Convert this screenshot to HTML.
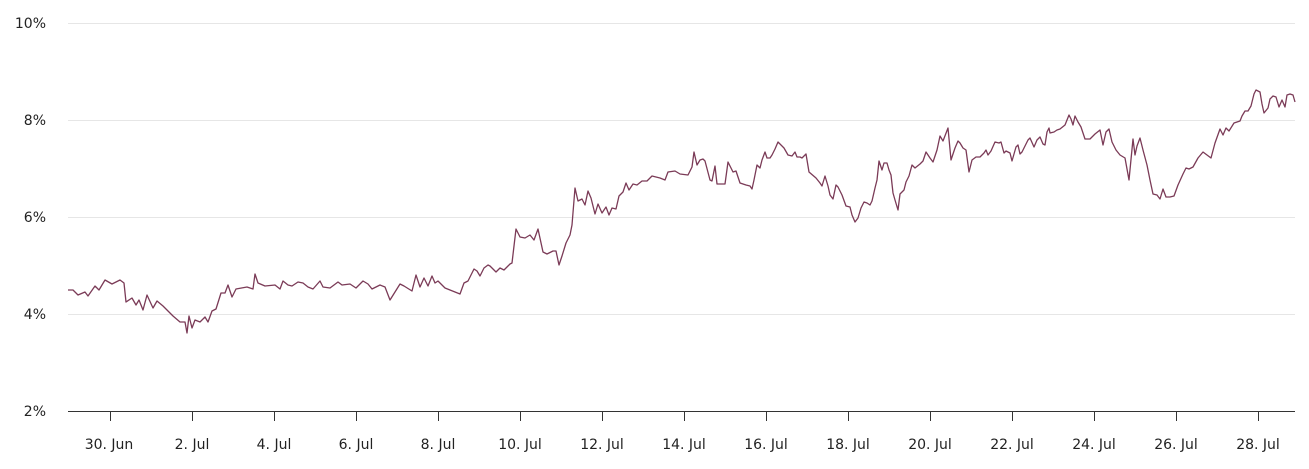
<!DOCTYPE html>
<html><head><meta charset="utf-8"><style>
body{margin:0;background:#fff;}
svg{display:block;font-family:"DejaVu Sans","Liberation Sans",sans-serif;}
</style></head><body>
<svg width="1309" height="469" viewBox="0 0 1309 469">
<g stroke="#e6e6e6" stroke-width="1">
<line x1="68" y1="23.5" x2="1295" y2="23.5"/>
<line x1="68" y1="120.5" x2="1295" y2="120.5"/>
<line x1="68" y1="217.5" x2="1295" y2="217.5"/>
<line x1="68" y1="314.5" x2="1295" y2="314.5"/>
</g>
<line x1="68" y1="411.5" x2="1295" y2="411.5" stroke="#333" stroke-width="1"/>
<g stroke="#333" stroke-width="1">
<line x1="110.5" y1="411" x2="110.5" y2="421"/><line x1="192.5" y1="411" x2="192.5" y2="421"/>
<line x1="274.5" y1="411" x2="274.5" y2="421"/><line x1="356.5" y1="411" x2="356.5" y2="421"/>
<line x1="438.5" y1="411" x2="438.5" y2="421"/><line x1="520.5" y1="411" x2="520.5" y2="421"/>
<line x1="602.5" y1="411" x2="602.5" y2="421"/><line x1="684.5" y1="411" x2="684.5" y2="421"/>
<line x1="766.5" y1="411" x2="766.5" y2="421"/><line x1="848.5" y1="411" x2="848.5" y2="421"/>
<line x1="930.5" y1="411" x2="930.5" y2="421"/><line x1="1012.5" y1="411" x2="1012.5" y2="421"/>
<line x1="1094.5" y1="411" x2="1094.5" y2="421"/><line x1="1176.5" y1="411" x2="1176.5" y2="421"/>
<line x1="1258.5" y1="411" x2="1258.5" y2="421"/>
</g>
<g font-size="14" fill="#222" text-anchor="end">
<text x="46" y="28">10%</text><text x="46" y="125">8%</text><text x="46" y="222">6%</text>
<text x="46" y="319">4%</text><text x="46" y="416">2%</text>
</g>
<g font-size="14" fill="#222" text-anchor="middle">
<text x="109" y="449">30. Jun</text><text x="192" y="449">2. Jul</text><text x="274" y="449">4. Jul</text>
<text x="356" y="449">6. Jul</text><text x="438" y="449">8. Jul</text><text x="520" y="449">10. Jul</text>
<text x="602" y="449">12. Jul</text><text x="684" y="449">14. Jul</text><text x="766" y="449">16. Jul</text>
<text x="848" y="449">18. Jul</text><text x="930" y="449">20. Jul</text><text x="1012" y="449">22. Jul</text>
<text x="1094" y="449">24. Jul</text><text x="1176" y="449">26. Jul</text><text x="1258" y="449">28. Jul</text>
</g>
<polyline fill="none" stroke="#7b3b57" stroke-width="1.3" stroke-linejoin="round" points="
68,290 73,290 78,295 85,292 88,296 95,286 99,290 105,280 112,284 120,280 124,283 126,302 132,298 136,305 139,300 143,310 147,295 153,308 157,301 163,306 173,316 180,322 185,322 187,333 189,316 192,328 195,320 200,322 205,317 208,322 212,311 216,309 221,293 225,293 228,285 232,297 236,289 247,287 253,289 255,274 258,283 265,286 275,285 280,289 283,281 288,285 292,286 298,282 303,283 308,287 313,289 320,281 323,287 330,288 338,282 342,285 350,284 356,288 363,281 368,284 372,289 380,285 385,287 390,300 400,284 404,286 412,291 416,275 420,287 424,278 428,286 432,276 435,283 438,281 445,288 455,292 460,294 464,283 468,281 474,269 477,271 480,276 484,268 488,265
490,266 496,272 500,268 504,270 508,266 510,264 512,263 516,229 520,237 525,238 530,235 534,240 538,229 543,252 547,254 553,251 556,251 559,265 562,256 566,243 570,235 572,225 575,188 578,201 582,199 585,205 588,191 591,198 595,214 598,204 602,213 606,207 609,215 612,208 616,209 619,196 623,192 626,183 629,190 633,184 637,185 642,181 647,181 652,176 660,178 665,180 668,172 675,171 680,174 688,175 692,167 694,152 697,165 700,160 703,159 705,161 710,180 712,181 715,166 717,184 725,184 728,162 733,172 736,171 740,183 746,185 750,186 752,189 754,180 757,165 760,168 762,160 765,152 767,158 770,158 772,155 775,149 778,142 784,148 788,155 792,156 795,152 797,157 800,157 802,158 806,154 809,172 816,178 820,183 822,186 825,176 828,186 830,195 833,199 836,185 838,187 842,195 846,206 850,207 852,215 855,222 858,218 861,208 864,202 867,203 870,205 872,201 875,188 877,180 879,161 882,170 884,163 887,163 889,170 891,175 893,193 895,200 898,210 900,194 904,190 906,182 909,176 912,165 915,168 920,164 923,161 926,152 930,158 933,162 937,150 940,136 943,141 948,128 951,160 955,148 958,141 960,143 963,148 966,150 969,172 972,160 976,157 980,157 982,155 984,153 986,150 988,155 991,151 995,142 999,143 1001,142 1004,153 1006,151 1010,153 1012,161 1016,147 1018,145 1020,154 1022,152 1025,146 1028,140 1030,138 1034,147 1037,140 1040,137 1043,144 1045,145 1047,132 1049,128 1050,133 1054,132 1057,130 1060,129 1065,125 1069,115 1071,119 1073,125 1075,116 1078,122 1081,127 1085,139 1090,139 1095,134 1100,130 1103,145 1106,132 1109,129 1112,142 1116,150 1120,155 1125,158 1129,180 1133,139 1135,155 1137,146 1140,138 1143,150 1147,165 1150,180 1153,194 1157,195 1160,199 1163,189 1166,197 1170,197 1174,196 1178,185 1183,174 1186,168 1189,169 1193,167 1198,158 1203,152 1207,155 1211,158 1215,143 1220,129 1223,135 1226,128 1229,131 1234,123 1240,121 1242,116 1245,111 1248,111 1251,106 1254,94 1256,90 1260,92 1262,104 1264,113 1268,108 1270,99 1273,96 1276,97 1279,107 1282,100 1285,107 1287,95 1290,94 1293,95 1295,102"/>
</svg>
</body></html>
